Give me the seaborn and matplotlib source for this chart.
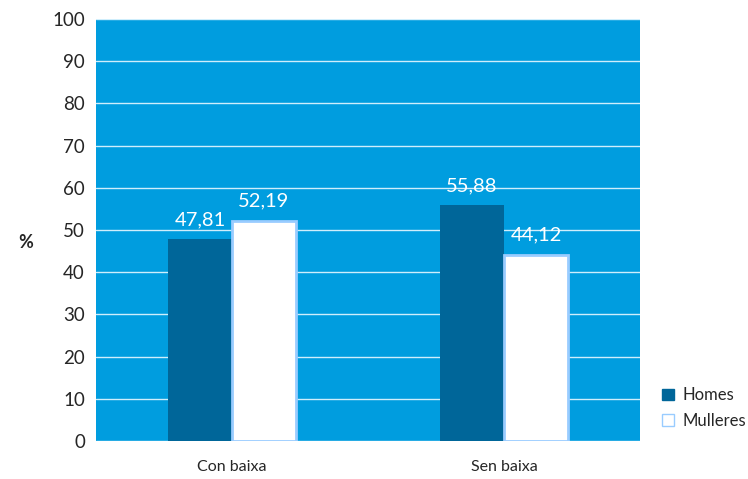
import pandas as pd
import matplotlib.pyplot as plt
import seaborn as sns
from matplotlib.patches import Patch

categories = ["Con baixa", "Sen baixa"]
homes = [47.81, 55.88]
mulleres = [52.19, 44.12]
series = ["Homes", "Mulleres"]

df = pd.DataFrame({
    "categoria": categories * 2,
    "sexo": [series[0]] * 2 + [series[1]] * 2,
    "valor": homes + mulleres,
})

sns.set_style("white")
plt.rcParams['font.family'] = ['Lato', 'DejaVu Sans']

fig = plt.figure(figsize=(7.48, 4.79), dpi=100)
ax = fig.add_axes([96 / 748, 1 - 441 / 479, 544 / 748, 422 / 479])
ax.set_facecolor("#009ddf")

sns.barplot(data=df, x="categoria", y="valor", hue="sexo", order=categories,
            hue_order=series, palette={"Homes": "#006699", "Mulleres": "#ffffff"},
            width=0.47, saturation=1, ax=ax, zorder=3, legend=False)

# border on the white bars
for bar in ax.patches[2:4]:
    bar.set_edgecolor("#99ccff")
    bar.set_linewidth(2)
for bar in ax.patches[:2]:
    bar.set_linewidth(0)

for cont in ax.containers:
    ax.bar_label(cont, labels=[f"{v:.2f}".replace(".", ",") for v in cont.datavalues],
                 color="white", fontsize=14.5, padding=8)

ax.set_ylim(0, 100)
ax.set_yticks(range(0, 101, 10))
ax.yaxis.grid(True, color="#cfeefc", linewidth=1, zorder=0)
ax.set_axisbelow(True)
ax.tick_params(axis="y", labelsize=13.5, length=0, pad=8)
ax.tick_params(axis="x", labelsize=11.5, length=0, pad=14)
for s in ax.spines.values():
    s.set_visible(False)
ax.set_xlabel("")
ax.set_ylabel("%", rotation=0, fontsize=13, fontweight="bold", va="center", ha="center")
ax.yaxis.set_label_coords((26 - 96) / 544, (441 - 243) / 422)

handles = [Patch(facecolor="#006699", edgecolor="#006699"),
           Patch(facecolor="white", edgecolor="#99ccff")]
fig.legend(handles, series, loc="center left", bbox_to_anchor=(647 / 748, 1 - 408 / 479),
           frameon=False, fontsize=12, handlelength=0.7, handleheight=0.7,
           handletextpad=0.5, labelspacing=0.55)

fig.savefig("out.png", dpi=100)
